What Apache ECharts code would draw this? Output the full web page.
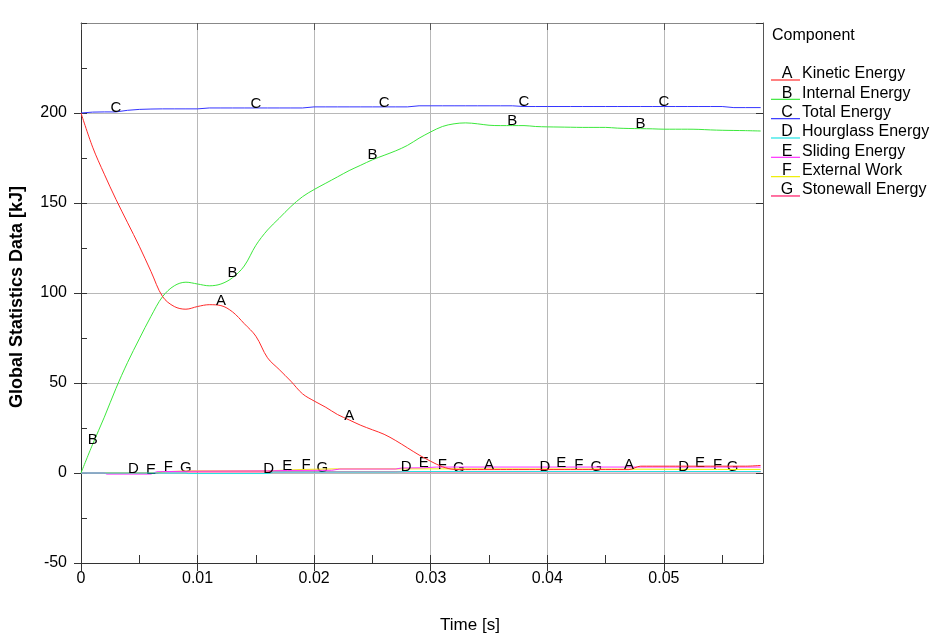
<!DOCTYPE html>
<html>
<head>
<meta charset="utf-8">
<script src="https://cdn.jsdelivr.net/npm/echarts@6/dist/echarts.min.js"></script>
<style>
  html, body { margin: 0; padding: 0; background: #fff; }
  #chart { width: 937px; height: 637px; }
</style>
</head>
<body>
<div id="chart"></div>
<script>
// time samples for A, B, C (s)
const time = [0, 0.001, 0.002, 0.003, 0.004, 0.005, 0.006, 0.007, 0.008, 0.009,
  0.010, 0.011, 0.012, 0.013, 0.014, 0.015, 0.016, 0.017, 0.018, 0.019,
  0.020, 0.021, 0.022, 0.023, 0.024, 0.025, 0.026, 0.027, 0.028, 0.029,
  0.030, 0.031, 0.032, 0.033, 0.034, 0.035, 0.036, 0.037, 0.038, 0.039,
  0.040, 0.041, 0.042, 0.043, 0.044, 0.045, 0.046, 0.047, 0.048, 0.049,
  0.050, 0.051, 0.052, 0.053, 0.054, 0.055, 0.056, 0.057, 0.0583];

const kinetic = [200, 181, 166, 152, 139, 126, 112, 98, 92.5, 91,
  92.5, 93.5, 93, 89.5, 83, 76, 64, 57.5, 51, 44,
  40, 36.5, 32.5, 29.5, 26.5, 24, 21.5, 18, 14, 10,
  6.5, 3.5, 2, 1.9, 1.9, 1.9, 1.9, 1.9, 1.9, 1.9,
  1.9, 1.9, 1.9, 1.9, 1.9, 1.9, 1.9, 1.9, 3.8, 3.8,
  3.8, 3.8, 3.8, 3.8, 3.8, 3.8, 3.8, 3.8, 4.2];

const internal = [0, 16, 31, 47, 61.5, 74.5, 87, 98, 104, 106,
  105, 104, 105, 108.5, 115, 126.5, 135, 141.5, 148, 153.5,
  157.5, 161, 164.5, 168, 171, 174, 176.5, 179, 182, 186,
  189.5, 192.5, 194, 194.5, 194, 193.2, 193, 193, 193, 192.5,
  192.3, 192.2, 192.1, 192, 192, 192, 191.6, 191.4, 191.3, 191.2,
  191, 191, 191, 190.9, 190.6, 190.4, 190.3, 190.2, 190];

const total = [200, 200.5, 200.6, 200.6, 201.5, 202, 202.2, 202.3, 202.3, 202.3,
  202.3, 202.8, 202.8, 202.8, 202.8, 202.8, 202.8, 202.8, 202.8, 202.8,
  203.4, 203.4, 203.4, 203.4, 203.4, 203.4, 203.4, 203.4, 203.4, 204,
  204, 204, 204, 204, 204, 204, 204, 204, 203.6, 203.6,
  203.6, 203.6, 203.6, 203.6, 203.6, 203.6, 203.6, 203.6, 203.6, 203.6,
  203.6, 203.6, 203.6, 203.6, 203.6, 203.6, 203, 203, 203];

// near-zero components (own time breakpoints)
const timeD = [0, 0.0045, 0.009, 0.0092, 0.0161, 0.0165, 0.027, 0.0279, 0.0398, 0.0517, 0.0583];
const hourglass = [0, 0, 0, -0.3, -0.3, 0.5, 0.5, 0.8, 0.8, 0.8, 0.8];

const timeE = [0, 0.002, 0.0022, 0.006, 0.0065, 0.0095, 0.016, 0.0177, 0.0215, 0.0222,
  0.027, 0.0275, 0.0294, 0.0305, 0.0412, 0.0531, 0.0583];
const sliding = [0, 0, -0.6, -0.6, 0.7, 1, 1.2, 1.4, 1.5, 2.2,
  2.2, 2.8, 2.9, 3.3, 3.3, 3.3, 3.3];

const timeF = [0, 0.006, 0.0075, 0.0095, 0.016, 0.0193, 0.022, 0.031, 0.0427, 0.0546, 0.0583];
const externalWork = [0, 0, 0.8, 1.2, 1.2, 2, 2.3, 2.3, 2.2, 2, 2];

const timeG = [0, 0.0065, 0.007, 0.009, 0.0207, 0.0324, 0.0442, 0.0559, 0.0583];
const stonewall = [0, 0, 0.6, 0.6, 0.6, 0.6, 0.7, 0.7, 0.7];

// where the curve letters sit
const labelTimesA = [0.012, 0.023, 0.035, 0.047];
const labelTimesB = [0.001, 0.013, 0.025, 0.037, 0.048];
const labelTimesC = [0.003, 0.015, 0.026, 0.038, 0.050];
const labelTimesD = [0.0045, 0.0161, 0.0279, 0.0398, 0.0517];
const labelTimesE = [0.006, 0.0177, 0.0294, 0.0412, 0.0531];
const labelTimesF = [0.0075, 0.0193, 0.031, 0.0427, 0.0546];
const labelTimesG = [0.009, 0.0207, 0.0324, 0.0442, 0.0559];

const letters = ['A', 'B', 'C', 'D', 'E', 'F', 'G'];
const names = ['Kinetic Energy', 'Internal Energy', 'Total Energy', 'Hourglass Energy',
  'Sliding Energy', 'External Work', 'Stonewall Energy'];
const colors = ['#ff2a2a', '#3ce83c', '#3434ff', '#20e4e4', '#ff30ff', '#eeee00', '#ff1464'];

const yTicks = { min: -50, max: 250, interval: 50 };
const xTicks = { min: 0, max: 0.0585, interval: 0.01 };

const FONT = '"Liberation Sans", Arial, sans-serif';

const chart = echarts.init(document.getElementById('chart'));

function makeSeries(idx, times, values, labelTimes, smooth) {
  const data = times.map((t, k) => [t, values[k]]);
  labelTimes.forEach(lt => {
    let best = 0;
    times.forEach((t, k) => {
      if (Math.abs(t - lt) < Math.abs(times[best] - lt)) best = k;
    });
    data[best] = { value: data[best], label: { show: true } };
  });
  return {
    name: names[idx],
    type: 'line',
    xAxisIndex: 0,
    yAxisIndex: 0,
    data,
    smooth,
    showSymbol: true,
    symbol: 'circle',
    symbolSize: 0,
    z: 10 - idx,
    lineStyle: { width: 1, color: colors[idx] },
    itemStyle: { color: colors[idx] },
    label: {
      show: false,
      formatter: letters[idx],
      position: 'top',
      distance: -3,
      color: '#000',
      fontSize: 15,
      fontFamily: FONT
    },
    emphasis: { disabled: true },
    animation: false
  };
}

const seriesList = [
  makeSeries(0, time, kinetic, labelTimesA, 0.35),
  makeSeries(1, time, internal, labelTimesB, 0.35),
  makeSeries(2, time, total, labelTimesC, false),
  makeSeries(3, timeD, hourglass, labelTimesD, false),
  makeSeries(4, timeE, sliding, labelTimesE, false),
  makeSeries(5, timeF, externalWork, labelTimesF, false),
  makeSeries(6, timeG, stonewall, labelTimesG, false)
];

// legend drawn as graphic: underline + letter + name
const legendGraphic = [{
  type: 'text', x: 772, y: 36,
  style: { text: 'Component', font: '16px ' + FONT, fill: '#000', textVerticalAlign: 'middle' }
}];
names.forEach((n, i) => {
  const ly = 80 + i * 19.33;
  legendGraphic.push({
    type: 'line',
    shape: { x1: 771, y1: ly, x2: 800, y2: ly },
    style: { stroke: colors[i], lineWidth: 1.2 }
  });
  legendGraphic.push({
    type: 'text', x: 787, y: ly - 6,
    style: { text: letters[i], font: '16px ' + FONT, fill: '#000', textAlign: 'center', textVerticalAlign: 'middle' }
  });
  legendGraphic.push({
    type: 'text', x: 802, y: ly - 6,
    style: { text: n, font: '16px ' + FONT, fill: '#000', textAlign: 'left', textVerticalAlign: 'middle' }
  });
});

const gridBox = { left: 81, top: 23, width: 682, height: 540 };

const option = {
  backgroundColor: '#ffffff',
  animation: false,
  grid: [
    Object.assign({ containLabel: false }, gridBox),
    Object.assign({ containLabel: false }, gridBox)
  ],
  xAxis: [
    {
      type: 'value', gridIndex: 0, position: 'bottom',
      min: xTicks.min, max: xTicks.max, interval: xTicks.interval,
      axisLine: { show: true, onZero: false, lineStyle: { color: '#333' } },
      axisTick: { show: true, inside: false, length: 8, lineStyle: { color: '#333' } },
      axisLabel: { show: true, showMaxLabel: false, margin: 8, color: '#000', fontSize: 16, fontFamily: FONT },
      splitLine: { show: true, lineStyle: { color: '#b8b8b8' } }
    },
    {
      type: 'value', gridIndex: 0, position: 'top',
      min: xTicks.min, max: xTicks.max, interval: xTicks.interval,
      axisLine: { show: true, onZero: false, lineStyle: { color: '#888' } },
      axisTick: { show: true, inside: true, length: 7, lineStyle: { color: '#555' } },
      axisLabel: { show: false },
      splitLine: { show: false }
    },
    {
      type: 'value', gridIndex: 1, position: 'bottom',
      min: xTicks.min, max: xTicks.max, interval: xTicks.interval / 2,
      axisLine: { show: false, onZero: false },
      axisTick: { show: true, inside: true, length: 8, lineStyle: { color: '#333' } },
      axisLabel: { show: false },
      splitLine: { show: false }
    }
  ],
  yAxis: [
    {
      type: 'value', gridIndex: 0, position: 'left',
      min: yTicks.min, max: yTicks.max, interval: yTicks.interval,
      axisLine: { show: true, onZero: false, lineStyle: { color: '#333' } },
      axisTick: { show: true, inside: false, length: 7, lineStyle: { color: '#333' } },
      axisLabel: { show: true, showMaxLabel: false, margin: 14, color: '#000', fontSize: 16, fontFamily: FONT },
      splitLine: { show: true, lineStyle: { color: '#b8b8b8' } }
    },
    {
      type: 'value', gridIndex: 0, position: 'right',
      min: yTicks.min, max: yTicks.max, interval: yTicks.interval,
      axisLine: { show: true, onZero: false, lineStyle: { color: '#555' } },
      axisTick: { show: true, inside: true, length: 7, lineStyle: { color: '#333' } },
      axisLabel: { show: false },
      splitLine: { show: false }
    },
    {
      type: 'value', gridIndex: 1, position: 'left',
      min: yTicks.min, max: yTicks.max, interval: yTicks.interval / 2,
      axisLine: { show: false, onZero: false },
      axisTick: { show: true, inside: true, length: 6, lineStyle: { color: '#333' } },
      axisLabel: { show: false },
      splitLine: { show: false }
    }
  ],
  graphic: [
    {
      type: 'text', x: 17, y: 297, rotation: Math.PI / 2,
      style: {
        text: 'Global Statistics Data [kJ]', font: 'bold 18px ' + FONT, fill: '#000',
        textAlign: 'center', textVerticalAlign: 'middle'
      }
    },
    {
      type: 'text', x: 470, y: 625,
      style: {
        text: 'Time [s]', font: '17px ' + FONT, fill: '#000',
        textAlign: 'center', textVerticalAlign: 'middle'
      }
    }
  ].concat(legendGraphic),
  series: seriesList
};

chart.setOption(option);
</script>
</body>
</html>
